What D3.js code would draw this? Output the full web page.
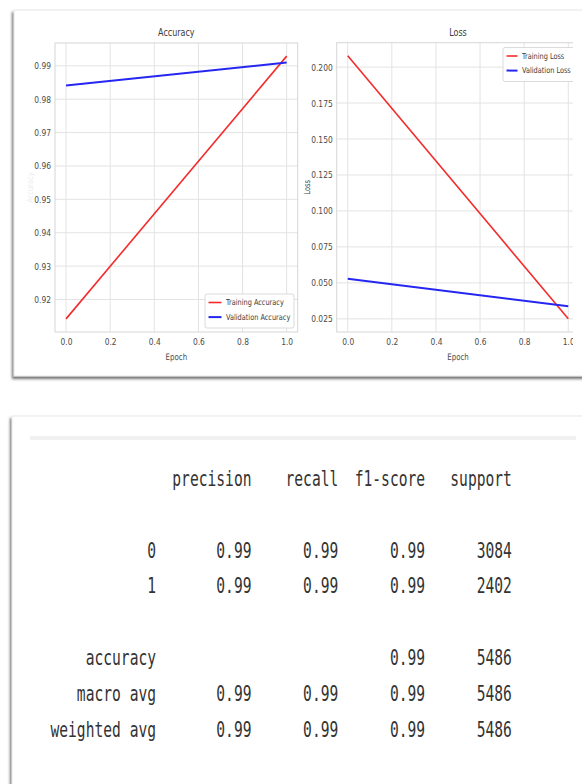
<!DOCTYPE html>
<html>
<head>
<meta charset="utf-8">
<script src="https://cdn.jsdelivr.net/npm/d3@7"></script>
<style>
  body { margin: 0; background: #fff; }
  svg { display: block; }
</style>
</head>
<body>
<svg id="chart" width="582" height="784"></svg>
<script>
// ---- training history ----
const epochs = [0, 1];
const trainAcc = [0.9142, 0.9929];
const valAcc = [0.9841, 0.9910];
const trainLoss = [0.2078, 0.0250];
const valLoss = [0.0529, 0.0338];

// ---- tick labels ----
const epochTicks = [0.0, 0.2, 0.4, 0.6, 0.8, 1.0];
const accTicks = [0.92, 0.93, 0.94, 0.95, 0.96, 0.97, 0.98, 0.99];
const lossTicks = [0.025, 0.050, 0.075, 0.100, 0.125, 0.150, 0.175, 0.200];

// ---- classification report ----
const reportColumns = ["precision", "recall", "f1-score", "support"];
const reportLabels = ["0", "1", "accuracy", "macro avg", "weighted avg"];
const reportLines = [2, 3, 5, 6, 7];
const precisionVals = [0.99, 0.99, null, 0.99, 0.99];
const recallVals = [0.99, 0.99, null, 0.99, 0.99];
const f1Vals = [0.99, 0.99, 0.99, 0.99, 0.99];
const supportVals = [3084, 2402, 5486, 5486, 5486];

const svg = d3.select("#chart");
const defs = svg.append("defs");

const shadow = defs.append("filter").attr("id", "cardShadow")
  .attr("x", "-5%").attr("y", "-5%").attr("width", "110%").attr("height", "110%");
shadow.append("feDropShadow").attr("dx", -1.5).attr("dy", 2.5)
  .attr("stdDeviation", 1.3).attr("flood-color", "#444").attr("flood-opacity", 0.75);

const SX = 0.8; // horizontal squeeze of the plot lettering
function squeeze(sel, s) {
  sel.attr("transform", function () {
    const x = +this.getAttribute("x") || 0;
    return `translate(${x},0) scale(${s},1) translate(${-x},0)`;
  });
}

// ---- cards ----
svg.append("rect").attr("x", 14).attr("y", 10).attr("width", 620).attr("height", 366)
  .attr("fill", "#fff").attr("stroke", "#e6e6e6").attr("filter", "url(#cardShadow)");
svg.append("rect").attr("x", 12).attr("y", 416).attr("width", 620).attr("height", 420)
  .attr("fill", "#fff").attr("stroke", "#e8e8e8").attr("filter", "url(#cardShadow)");
svg.append("rect").attr("x", 30).attr("y", 436).attr("width", 546).attr("height", 4)
  .attr("fill", "#f1f1f1");

// ---- line chart panel ----
function panel(opts) {
  const { left, right, top, bottom, series, yTicks, yFmt, title, ylabel, ylabelColor, legend, clipRight } = opts;
  const g = svg.append("g");
  if (clipRight) {
    const id = "clip" + Math.round(left);
    defs.append("clipPath").attr("id", id).append("rect")
      .attr("x", left - 60).attr("y", 0).attr("width", clipRight - left + 60).attr("height", 380);
    g.attr("clip-path", `url(#${id})`);
  }
  const all = series.flatMap(s => s.values);
  const [lo, hi] = d3.extent(all);
  const pad = (hi - lo) * 0.05;
  const x = d3.scaleLinear().domain([-0.05, 1.05]).range([left, right]);
  const y = d3.scaleLinear().domain([lo - pad, hi + pad]).range([bottom, top]);

  g.append("rect").attr("x", left).attr("y", top).attr("width", right - left).attr("height", bottom - top)
    .attr("fill", "#fff");
  // grid
  g.append("g").selectAll("line").data(epochTicks).join("line")
    .attr("x1", d => x(d)).attr("x2", d => x(d)).attr("y1", top).attr("y2", bottom)
    .attr("stroke", "#e3e3e3").attr("stroke-width", 1);
  g.append("g").selectAll("line").data(yTicks).join("line")
    .attr("x1", left).attr("x2", right).attr("y1", d => y(d)).attr("y2", d => y(d))
    .attr("stroke", "#e3e3e3").attr("stroke-width", 1);
  g.append("rect").attr("x", left).attr("y", top).attr("width", right - left).attr("height", bottom - top)
    .attr("fill", "none").attr("stroke", "#d6d6d6").attr("stroke-width", 1);

  // axes
  const xAxis = g.append("g").attr("transform", `translate(0,${bottom})`)
    .call(d3.axisBottom(x).tickValues(epochTicks).tickFormat(d3.format(".1f")).tickSize(0).tickPadding(6));
  const yAxis = g.append("g").attr("transform", `translate(${left},0)`)
    .call(d3.axisLeft(y).tickValues(yTicks).tickFormat(d3.format(yFmt)).tickSize(0).tickPadding(4));
  [xAxis, yAxis].forEach(a => {
    a.select(".domain").remove();
    a.selectAll("text").attr("fill", "#4a4a4a").attr("font-family", "DejaVu Sans")
      .attr("font-size", 9.4).call(squeeze, SX);
  });

  // series
  const line = d3.line().x((d, i) => x(epochs[i])).y(d => y(d));
  series.forEach(s => {
    g.append("path").datum(s.values).attr("d", line).attr("fill", "none")
      .attr("stroke", s.color).attr("stroke-width", s.width);
  });

  // title and labels
  g.append("text").attr("x", (left + right) / 2).attr("y", top - 7).attr("text-anchor", "middle")
    .attr("fill", "#3c3c3c").attr("font-family", "DejaVu Sans").attr("font-size", 10).text(title)
    .call(squeeze, SX);
  g.append("text").attr("x", (left + right) / 2).attr("y", bottom + 28).attr("text-anchor", "middle")
    .attr("fill", "#4a4a4a").attr("font-family", "DejaVu Sans").attr("font-size", 8.8).text("Epoch")
    .call(squeeze, SX);
  g.append("text").attr("transform", `translate(${ylabel.x},${(top + bottom) / 2}) rotate(-90) scale(${SX},1)`)
    .attr("text-anchor", "middle").attr("fill", ylabelColor).attr("font-family", "DejaVu Sans")
    .attr("font-size", 8.4).text(ylabel.text);

  // legend
  const lg = g.append("g");
  lg.append("rect").attr("x", legend.x).attr("y", legend.y).attr("width", legend.w).attr("height", 34)
    .attr("rx", 2).attr("fill", "#fff").attr("stroke", "#d2d2d2").attr("stroke-width", 0.8);
  series.forEach((s, i) => {
    const ly = legend.y + 8.5 + i * 14.6;
    lg.append("line").attr("x1", legend.x + 3.5).attr("x2", legend.x + 3.5 + legend.sample)
      .attr("y1", ly).attr("y2", ly).attr("stroke", s.color).attr("stroke-width", s.width);
    lg.append("text").attr("x", legend.x + legend.sample + 8).attr("y", ly).attr("dy", "0.35em")
      .attr("fill", "#3c3c3c").attr("font-family", "DejaVu Sans").attr("font-size", 8.2).text(s.name)
      .call(squeeze, SX);
  });
}

panel({
  left: 55, right: 297.7, top: 43, bottom: 332,
  series: [
    { name: "Training Accuracy", values: trainAcc, color: "#f22b2b", width: 1.6 },
    { name: "Validation Accuracy", values: valAcc, color: "#2626f2", width: 2 }
  ],
  yTicks: accTicks, yFmt: ".2f", title: "Accuracy",
  ylabel: { text: "Accuracy", x: 33 }, ylabelColor: "#ededed",
  legend: { x: 205, y: 294, w: 89, sample: 13 }
});

panel({
  left: 336.7, right: 579.3, top: 42.7, bottom: 332,
  series: [
    { name: "Training Loss", values: trainLoss, color: "#f22b2b", width: 1.6 },
    { name: "Validation Loss", values: valLoss, color: "#2626f2", width: 2 }
  ],
  yTicks: lossTicks, yFmt: ".3f", title: "Loss",
  ylabel: { text: "Loss", x: 310 }, ylabelColor: "#4a4a4a",
  legend: { x: 503, y: 47.5, w: 78, sample: 11 },
  clipRight: 573
});

// ---- classification report, laid out on a monospace character grid ----
const charX = d3.scaleLinear().domain([0, 53]).range([51.9, 511.9]);
const lineY = d3.scaleLinear().domain([0, 7]).range([486, 486 + 7 * 35.8]);
const MONO_SX = 0.68;
const rep = svg.append("g").attr("fill", "#333")
  .attr("font-family", "DejaVu Sans Mono").attr("font-size", 21.5);

function cell(text, colEnd, line) {
  rep.append("text").attr("x", charX(colEnd)).attr("y", lineY(line))
    .attr("text-anchor", "end").text(text).call(squeeze, MONO_SX);
}
const colEnds = [23, 33, 43, 53];
reportColumns.forEach((c, i) => cell(c, colEnds[i], 0));
const fmt = d3.format(".2f");
reportLabels.forEach((lab, r) => {
  const ln = reportLines[r];
  cell(lab, 12, ln);
  [precisionVals[r], recallVals[r], f1Vals[r]].forEach((v, k) => {
    if (v !== null) cell(fmt(v), colEnds[k], ln);
  });
  cell(String(supportVals[r]), colEnds[3], ln);
});
</script>
</body>
</html>
